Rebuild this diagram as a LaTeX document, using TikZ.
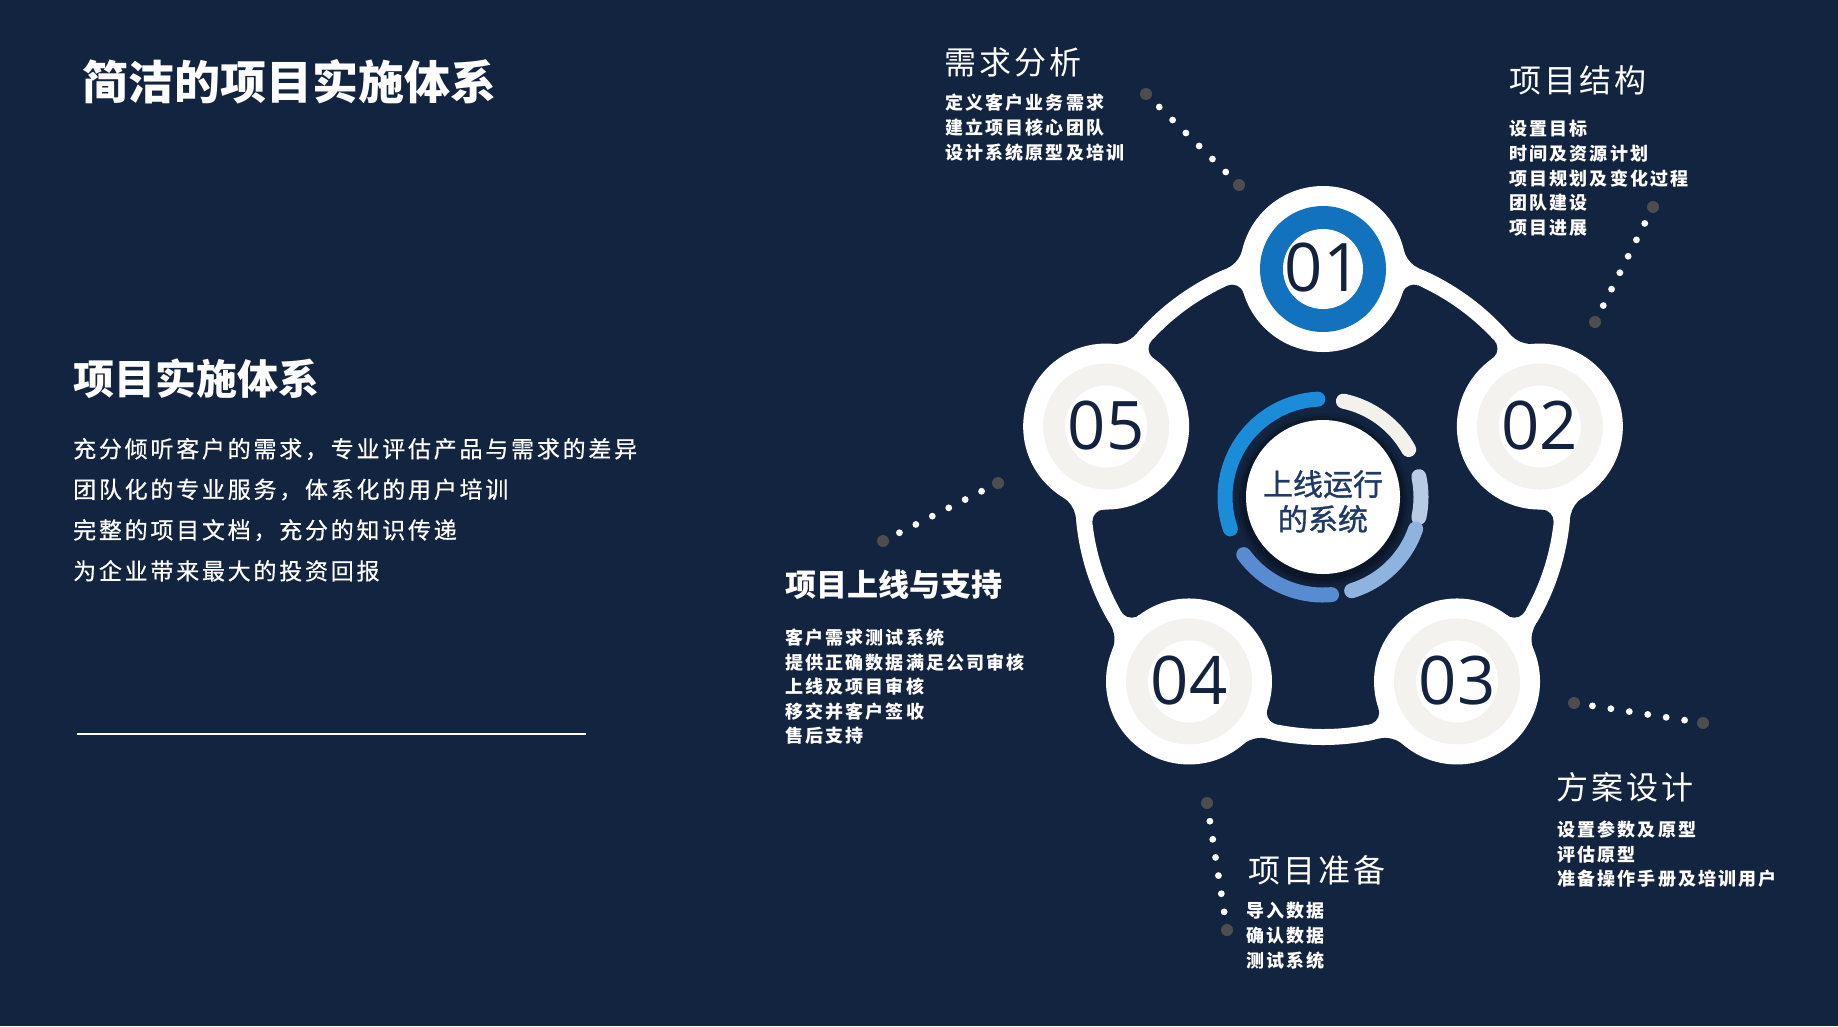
\documentclass[tikz,border=0pt]{standalone}
\usepackage{fontspec}
\setmainfont{Noto Sans CJK SC}
\newfontfamily\cjksp[LetterSpace=12]{Noto Sans CJK SC}
\newfontfamily\cjkspmed[LetterSpace=12,FakeBold=0.6]{Noto Sans CJK SC}
\newfontfamily\cjkhd[LetterSpace=10]{Noto Sans CJK SC}
\newfontfamily\cjkmed[FakeBold=1.2]{Noto Sans CJK SC}
\newfontfamily\numfont{Open Sans}
\usetikzlibrary{calc}
\definecolor{bg}{RGB}{19,36,64}
\definecolor{navytxt}{RGB}{19,35,63}
\definecolor{ringblue}{RGB}{19,114,190}
\definecolor{beige}{RGB}{243,242,238}
\definecolor{arcA}{RGB}{26,140,216}
\definecolor{arcB}{RGB}{242,241,236}
\definecolor{arcC}{RGB}{184,203,228}
\definecolor{arcD}{RGB}{142,179,223}
\definecolor{arcE}{RGB}{88,139,207}
\definecolor{dotgray}{RGB}{77,77,77}
\definecolor{ctxt}{RGB}{31,58,102}
\begin{document}
\begin{tikzpicture}[x=1pt,y=-1pt,
  titlestyle/.style={text=white, anchor=west, inner sep=0, font=\bfseries\fontsize{46}{55}\selectfont},
  subtitle/.style={text=white, anchor=west, inner sep=0, font=\bfseries\fontsize{41}{49}\selectfont},
  bodytext/.style={text=white, anchor=west, inner sep=0, font=\cjkspmed\fontsize{23}{28}\selectfont},
  headtext/.style={text=white, anchor=west, inner sep=0, font=\cjkhd\fontsize{32}{38}\selectfont},
  headbold/.style={text=white, anchor=west, inner sep=0, font=\bfseries\fontsize{31}{37}\selectfont},
  itemtext/.style={text=white, anchor=west, inner sep=0, font=\cjksp\bfseries\fontsize{18}{22}\selectfont},
  bigc/.style={circle, fill=white, minimum size=166pt, inner sep=0},
  numtext/.style={text=navytxt, font=\numfont\fontsize{67}{80}\selectfont, inner sep=0},
  gdot/.style={circle, fill=dotgray, minimum size=12pt, inner sep=0},
  arcseg/.style={line width=15pt, line cap=round},
  ctextstyle/.style={text=ctxt, align=center, inner sep=0, font=\cjkmed\fontsize{30}{35}\selectfont},
]
\useasboundingbox (0,0) rectangle (1838,1026);
\fill[bg] (0,0) rectangle (1838,1026);

% ---------- left text ----------
\node[titlestyle] (t0) at (82,82) {简洁的项目实施体系};
\node[subtitle] (t1) at (73,379) {项目实施体系};
\foreach \s [count=\i] in {充分倾听客户的需求，专业评估产品与需求的差异,团队化的专业服务，体系化的用户培训,完整的项目文档，充分的知识传递,为企业带来最大的投资回报}
  \node[bodytext] (b\i) at (73,{449+40.6*(\i-1)}) {\s};
\coordinate (la) at (77,734);
\coordinate (lb) at (586,734);
\draw[white, line width=1.5pt] (la) -- (lb);

% ---------- ring diagram ----------
\coordinate (O) at (1323,497);
\foreach \i/\t in {1/-90,2/-18,3/54,4/126,5/198}
  \coordinate (p\i) at ([shift={(O)}] \t:228);

\draw[white, line width=16pt] (O) circle (240pt);

\foreach \i/\t in {1/-90,2/-18,3/54,4/126,5/198}{
  \foreach \s in {1,-1}{
    \coordinate (fo) at ([shift={(O)}] {\t+\s*23}:276);
    \coordinate (to) at ([shift={(O)}] {\t+\s*23}:248);
    \coordinate (po) at ([shift={(O)}] {\t+\s*10}:236);
    \fill[white] (p\i) -- ($(p\i)!0.7477!(fo)$) -- (fo) -- (to) -- (po) -- cycle;
    \fill[bg] (fo) circle (28pt);
    \coordinate (fi) at ([shift={(O)}] {\t+\s*24.4}:220);
    \coordinate (ti) at ([shift={(O)}] {\t+\s*24.4}:232);
    \coordinate (qi) at ([shift={(O)}] {\t+\s*10}:244);
    \fill[white] (p\i) -- ($(p\i)!0.8737!(fi)$) -- (fi) -- (ti) -- (qi) -- cycle;
    \fill[bg] (fi) circle (12pt);
  }
}

\foreach \i in {1,...,5} \node[bigc] (c\i) at (p\i) {};
\fill[ringblue] (p1) circle (63pt);
\fill[white] (p1) circle (40pt);
\foreach \i in {2,...,5}{
  \fill[beige] (p\i) circle (63pt);
  \fill[white] (p\i) circle (41pt);
}
\foreach \i in {1,...,5} \node[numtext] (n\i) at ([shift={(0,-1)}]p\i) {0\i};

% centre
\foreach \r/\o in {87/0.08,84/0.12,81/0.18}
  \fill[black, opacity=\o] ([shift={(0,3)}]O) circle (\r pt);
\fill[white] (O) circle (77pt);
\draw[arcseg, arcA] ([shift={(O)}] -93:98) arc[start angle=-93, end angle=-199, radius=98];
\draw[arcseg, arcB] ([shift={(O)}] -78:98) arc[start angle=-78, end angle=-29, radius=98];
\draw[arcseg, arcC] ([shift={(O)}] -12:98) arc[start angle=-12, end angle=12, radius=98];
\draw[arcseg, arcD] ([shift={(O)}] 19:98) arc[start angle=19, end angle=73, radius=98];
\draw[arcseg, arcE] ([shift={(O)}] 85:98) arc[start angle=85, end angle=144, radius=98];
\node[ctextstyle] (ctr) at ([shift={(0,4.5)}]O) {上线运行\\的系统};

% ---------- labels ----------
\node[headtext] (h1) at (944,62) {需求分析};
\foreach \s [count=\i] in {定义客户业务需求,建立项目核心团队,设计系统原型及培训}
  \node[itemtext] (ra\i) at (945,{103+24.6*(\i-1)}) {\s};

\node[headtext] (h2) at (1509,80) {项目结构};
\foreach \s [count=\i] in {设置目标,时间及资源计划,项目规划及变化过程,团队建设,项目进展}
  \node[itemtext] (rb\i) at (1509,{129+24.6*(\i-1)}) {\s};

\node[headtext] (h3) at (1556,787) {方案设计};
\foreach \s [count=\i] in {设置参数及原型,评估原型,准备操作手册及培训用户}
  \node[itemtext] (rc\i) at (1557,{830+24.5*(\i-1)}) {\s};

\node[headtext] (h4) at (1248,870) {项目准备};
\foreach \s [count=\i] in {导入数据,确认数据,测试系统}
  \node[itemtext] (rd\i) at (1246,{911+25*(\i-1)}) {\s};

\node[headbold] (h5) at (785,585) {项目上线与支持};
\foreach \s [count=\i] in {客户需求测试系统,提供正确数据满足公司审核,上线及项目审核,移交并客户签收,售后支持}
  \node[itemtext] (re\i) at (785,{638+24.5*(\i-1)}) {\s};

% ---------- dotted connectors ----------
\node[gdot] (da1) at (1146,94) {};  \node[gdot] (db1) at (1239,185) {};
\node[gdot] (da2) at (1653,207) {}; \node[gdot] (db2) at (1595,322) {};
\node[gdot] (da3) at (1574,703) {}; \node[gdot] (db3) at (1703,723) {};
\node[gdot] (da4) at (1207,803) {}; \node[gdot] (db4) at (1227,930) {};
\node[gdot] (da5) at (998,483) {};  \node[gdot] (db5) at (883,541) {};
\foreach \a in {1,...,5}
  \foreach \k in {1,...,6}
    \fill[white] ($(da\a)!\k/7!(db\a)$) circle (3.4pt);
\end{tikzpicture}
\end{document}
